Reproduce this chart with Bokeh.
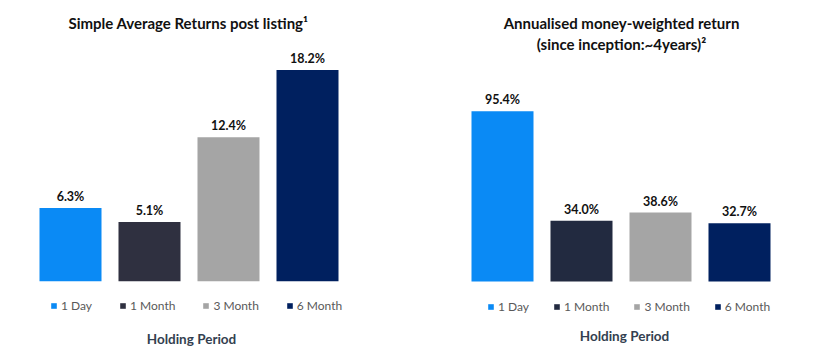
from bokeh.plotting import figure
from bokeh.layouts import row
from bokeh.models import ColumnDataSource, LabelSet, Label, Legend, LegendItem
from bokeh.core.properties import value
from bokeh.embed import file_html
from bokeh.resources import INLINE

categories = ["1 Day", "1 Month", "3 Month", "6 Month"]
left_values = [6.3, 5.1, 12.4, 18.2]
right_values = [95.4, 34.0, 38.6, 32.7]
left_colors = ["#0a8af5", "#2f3040", "#a5a5a5", "#00205f"]
right_colors = ["#0a8af5", "#222a40", "#a5a5a5", "#00205f"]
left_title = ["Simple Average Returns post listing\u00b9"]
right_title = ["Annualised money-weighted return", "(since inception:~4years)\u00b2"]
x_label = "Holding Period"

FONT = "Lato"


def make_panel(values, colors, titles, x_range, y_range, legend_x, legend_y,
               spacing, title_x, xlabel_x, xlabel_y):
    p = figure(width=408, height=353, x_range=x_range, y_range=y_range,
               output_backend="svg", toolbar_location=None,
               x_axis_location=None, y_axis_location=None, min_border=0,
               outline_line_color=None)
    p.grid.visible = False
    src = ColumnDataSource(dict(
        x=list(range(len(categories))),
        top=values,
        color=colors,
        cat=categories,
        lab=["%.1f%%" % v for v in values],
    ))
    r = p.vbar(x="x", top="top", bottom=0, width=0.785, fill_color="color",
               line_color=None, source=src)
    labels = LabelSet(x="x", y="top", text="lab", source=src, y_offset=7,
                      text_align="center", text_baseline="alphabetic",
                      text_font=value(FONT), text_font_style="bold",
                      text_font_size="12.5px", text_color="#111111")
    p.add_layout(labels)
    items = [LegendItem(label=c, renderers=[r], index=i)
             for i, c in enumerate(categories)]
    legend = Legend(items=items, orientation="horizontal",
                    location=(legend_x, legend_y), padding=0, margin=0,
                    spacing=spacing, label_standoff=4, glyph_width=7,
                    glyph_height=7, label_height=14, label_width=10,
                    label_text_font=FONT, label_text_font_size="12px",
                    label_text_color="#595959", border_line_color=None,
                    background_fill_alpha=0)
    p.add_layout(legend)
    for i, t in enumerate(titles):
        p.add_layout(Label(x=title_x, y=353 - 22 - 21 * i, x_units="screen",
                           y_units="screen", text=t, text_align="center",
                           text_baseline="middle", text_font=FONT,
                           text_font_style="bold", text_font_size="15px",
                           text_color="#111111"))
    p.add_layout(Label(x=xlabel_x, y=xlabel_y, x_units="screen",
                       y_units="screen", text=x_label, text_align="center",
                       text_baseline="middle", text_font=FONT,
                       text_font_style="bold", text_font_size="13.5px",
                       text_color="#333f50"))
    return p


left = make_panel(left_values, left_colors, left_title,
                  (-70 / 79, (408 - 70) / 79),
                  (-72.3 / 11.6, (353 - 72.3) / 11.6),
                  50, 40, 27, 188, 191, 353 - 338)
right = make_panel(right_values, right_colors, right_title,
                   (-94 / 79, (408 - 94) / 79),
                   (-72 / 1.785, (353 - 72) / 1.785),
                   79, 39, 24, 213, 216, 353 - 335)

layout = row(left, right)
open("out.html", "w").write(file_html(layout, INLINE))
